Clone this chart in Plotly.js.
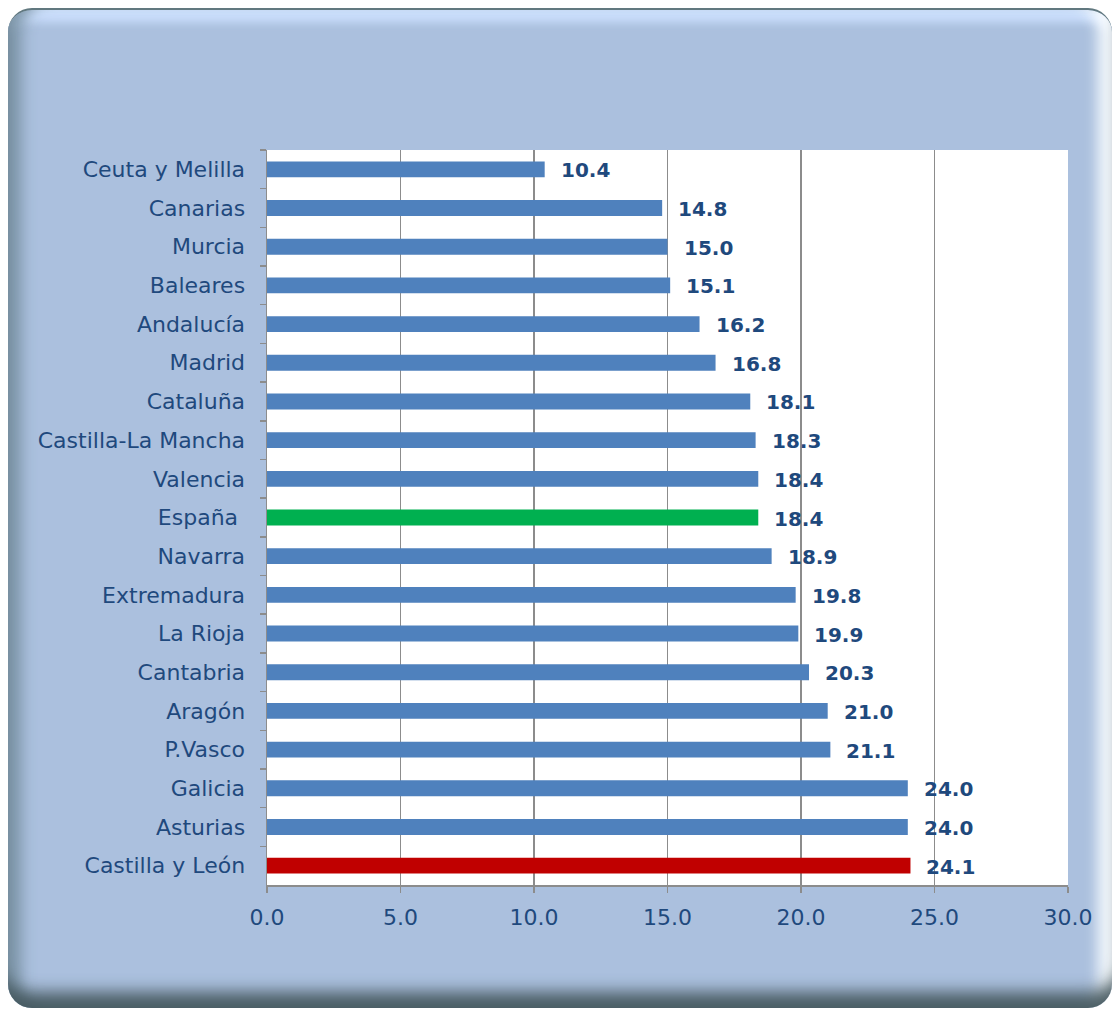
<!DOCTYPE html>
<html>
<head>
<meta charset="utf-8">
<script src="https://cdn.plot.ly/plotly-3.0.1.min.js"></script>
<style>
  html, body { margin:0; padding:0; background:#ffffff; }
  #wrap { position:relative; width:1114px; height:1010px; overflow:hidden; }
  #panel {
    position:absolute; left:8px; top:8px; width:1104px; height:1000px;
    border-radius:24px; background:#abc0de;
    border-top:2px solid #61787f; box-sizing:border-box;
    box-shadow:
      inset 0 -24px 16px -8px rgba(70,88,95,0.95),
      inset 22px 0 14px -8px rgba(120,145,162,0.85),
      inset -22px 0 14px -8px rgba(250,253,255,0.95),
      inset 0 18px 10px -6px rgba(205,225,255,0.95);
  }
  #chart { position:absolute; left:0; top:0; width:1114px; height:1010px; }
</style>
</head>
<body>
<div id="wrap">
  <div id="panel"></div>
  <div id="chart"></div>
</div>
<script>
// Data (top to bottom as shown)
const regions = ["Ceuta y Melilla","Canarias","Murcia","Baleares","Andalucía","Madrid","Cataluña",
  "Castilla-La Mancha","Valencia","España ","Navarra","Extremadura","La Rioja","Cantabria",
  "Aragón","P.Vasco","Galicia","Asturias","Castilla y León"];
const values = [10.4,14.8,15.0,15.1,16.2,16.8,18.1,18.3,18.4,18.4,18.9,19.8,19.9,20.3,21.0,21.1,24.0,24.0,24.1];
const xTicks = [0,5,10,15,20,25,30];
const xTickLabels = ["0.0","5.0","10.0","15.0","20.0","25.0","30.0"];

const colorFor = r => r.trim() === "España" ? "#00b050" : (r === "Castilla y León" ? "#c00000" : "#4f81bd");

const trace = {
  type: "bar", orientation: "h",
  x: values, y: regions,
  marker: { color: regions.map(colorFor), line: { width: 0 } },
  width: 0.41,
  hoverinfo: "x+y"
};

const annotations = values.map((v, i) => ({
  x: v, y: regions[i], xref: "x", yref: "y",
  text: "<b>" + v.toFixed(1) + "</b>", showarrow: false,
  xanchor: "left", xshift: 14, yshift: -1,
  font: { family: "DejaVu Sans, Verdana, sans-serif", size: 20, color: "#1f497d" }
}));

const layout = {
  width: 1114, height: 1010,
  margin: { l: 267, r: 46, t: 150, b: 125, pad: 0 },
  paper_bgcolor: "rgba(0,0,0,0)",
  plot_bgcolor: "#ffffff",
  showlegend: false,
  bargap: 0.59,
  font: { family: "DejaVu Sans, Verdana, sans-serif", color: "#1f497d" },
  xaxis: {
    range: [0, 30], tickvals: xTicks, ticktext: xTickLabels,
    showgrid: true, gridcolor: "#8c8c8c", gridwidth: 1.3,
    zeroline: false, showline: true, linecolor: "#8c8c8c", linewidth: 1.5,
    ticks: "outside", ticklen: 6, tickcolor: "#8c8c8c", tickwidth: 1.5,
    tickfont: { size: 22, color: "#1f497d" }, ticklabelstandoff: 6,
    fixedrange: true
  },
  yaxis: {
    type: "category", autorange: "reversed",
    showgrid: false, zeroline: false, showline: true, linecolor: "#8c8c8c", linewidth: 1.5,
    ticks: "outside", ticklen: 6, tickcolor: "#8c8c8c", tickwidth: 1.5, tickson: "boundaries",
    tickfont: { size: 22, color: "#1f497d" }, ticklabelstandoff: 16,
    fixedrange: true
  },
  annotations: annotations
};

Plotly.newPlot("chart", [trace], layout, { displayModeBar: false, staticPlot: true });
</script>
</body>
</html>
